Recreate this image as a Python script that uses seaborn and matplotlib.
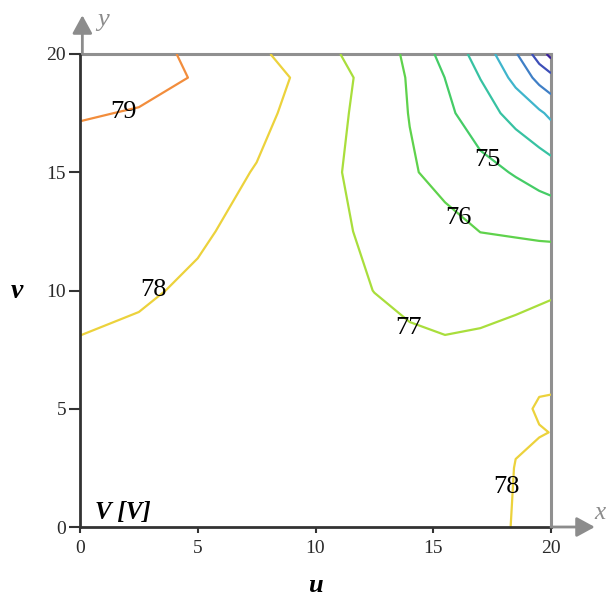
import numpy as np
import matplotlib
matplotlib.use("Agg")
import matplotlib.pyplot as plt
import seaborn as sns

# Sample grid (u across, v up) of the potential V in volts
u_grid = [0, 2.5, 5, 7.5, 10, 12.5, 14, 15.5, 17, 18.5, 19.5, 20]
v_grid = [0, 2.5, 4, 5, 6, 8, 10, 12.5, 15, 17.5, 19, 20]

row_v0    = [77.60, 77.55, 77.50, 77.45, 77.45, 77.50, 77.58, 77.68, 77.82, 78.03, 78.20, 78.30]
row_v2_5  = [77.70, 77.60, 77.52, 77.45, 77.44, 77.46, 77.50, 77.60, 77.80, 78.01, 78.12, 78.18]
row_v4    = [77.75, 77.65, 77.55, 77.47, 77.44, 77.42, 77.42, 77.50, 77.72, 77.97, 77.98, 78.005]
row_v5    = [77.80, 77.70, 77.58, 77.50, 77.43, 77.40, 77.38, 77.45, 77.68, 77.90, 78.04, 78.06]
row_v6    = [77.85, 77.75, 77.62, 77.52, 77.42, 77.35, 77.30, 77.35, 77.50, 77.75, 77.96, 77.96]
row_v8    = [77.99, 77.88, 77.72, 77.58, 77.40, 77.20, 77.08, 77.02, 77.10, 77.29, 77.50, 77.64]
row_v10   = [78.20, 78.10, 77.88, 77.65, 77.33, 76.99, 76.84, 76.69, 76.61, 76.69, 76.78, 76.84]
row_v12_5 = [78.45, 78.35, 78.10, 77.77, 77.30, 76.83, 76.56, 76.28, 75.99, 75.92, 75.85, 75.82]
row_v15   = [78.75, 78.62, 78.40, 77.95, 77.32, 76.61, 76.10, 75.71, 75.32, 74.92, 74.61, 74.46]
row_v17_5 = [79.04, 78.97, 78.72, 78.25, 77.55, 76.58, 75.97, 75.23, 74.45, 73.66, 73.15, 72.80]
row_v19   = [79.25, 79.15, 78.97, 78.42, 77.68, 76.63, 75.91, 74.99, 73.98, 72.74, 71.70, 71.30]
row_v20   = [79.40, 79.25, 78.86, 78.19, 77.38, 76.48, 75.82, 74.65, 73.64, 72.11, 70.50, 69.70]

levels = [70, 71, 72, 73, 74, 75, 76, 77, 78, 79]
tick_values = [0, 5, 10, 15, 20]
labelled_levels = [79, 78, 77, 76, 75, 78]

# where each level label sits (u, v)
label_anchor = [(1.83, 17.55), (3.1, 10.02), (13.93, 8.41), (16.05, 13.07),
                (17.28, 15.52), (18.13, 1.69)]

level_colors = ["#3a1f9c", "#3d4fb8", "#3f7fc6", "#3fb5cc", "#37c2a2",
                "#45cc66", "#5fd24c", "#a9de3c", "#ecd23c", "#f28d3c"]

sns.set_theme(style="white")
plt.rcParams["font.family"] = ["Liberation Serif", "DejaVu Serif"]

W, H = 606, 597
fig = plt.figure(figsize=(W / 100, H / 100), dpi=100)
ax = fig.add_axes([80 / W, 70 / H, 471 / W, 473 / H])

Z = np.array([row_v0, row_v2_5, row_v4, row_v5, row_v6, row_v8, row_v10,
              row_v12_5, row_v15, row_v17_5, row_v19, row_v20])
UU, VV = np.meshgrid(u_grid, v_grid)
ax.contour(UU, VV, Z, levels=levels, colors=level_colors, linewidths=1.6)

for lev, (lu, lv) in zip(labelled_levels, label_anchor):
    ax.text(lu, lv, f"{lev}", fontsize=19, color="black",
            ha="center", va="center", zorder=5)

ax.set_xlim(0, 20)
ax.set_ylim(0, 20)
ax.set_xticks(tick_values)
ax.set_yticks(tick_values)
ax.set_xlabel("")
ax.set_ylabel("")

dark = "#333333"
light = "#909090"
for side in ("left", "bottom"):
    ax.spines[side].set_color(dark)
    ax.spines[side].set_linewidth(2.0)
for side in ("top", "right"):
    ax.spines[side].set_color(light)
    ax.spines[side].set_linewidth(2.2)
ax.spines["top"].set_zorder(0.5)
ax.spines["right"].set_zorder(0.5)

ax.tick_params(axis="y", direction="out", length=8, width=1.5, color=dark,
               labelsize=14, labelcolor="#2a2a2a", pad=2, left=True)
ax.tick_params(axis="x", direction="out", length=4.5, width=1.5, color=dark,
               labelsize=14, labelcolor="#2a2a2a", pad=5, bottom=True)

# axis arrows of the plot frame
arrow_kw = dict(arrowstyle="-|>,head_length=0.55,head_width=0.3",
                color="#8c8c8c", lw=2, mutation_scale=20, shrinkA=0, shrinkB=0)
ax.annotate("", xy=(1.093, 0), xycoords="axes fraction",
            xytext=(1.0, 0), textcoords="axes fraction",
            arrowprops=arrow_kw, annotation_clip=False)
ax.annotate("", xy=(0.005, 1.082), xycoords="axes fraction",
            xytext=(0.005, 1.0), textcoords="axes fraction",
            arrowprops=arrow_kw, annotation_clip=False)
fig.text(594 / W, 1 - 513 / H, "x", fontsize=18, style="italic",
         color="#8c8c8c", ha="left", va="center")
fig.text(97 / W, 1 - 20 / H, "y", fontsize=19, style="italic",
         color="#8c8c8c", ha="left", va="center")

fig.text(315 / W, 1 - 585 / H, "u", fontsize=19, style="italic",
         weight="bold", color="black", ha="center", va="center")
fig.text(17 / W, 1 - 292 / H, "v", fontsize=20, style="italic",
         weight="bold", color="black", ha="center", va="center")
fig.text(95 / W, 1 - 512 / H, "V [V]", fontsize=18, style="italic",
         weight="bold", color="black", ha="left", va="center")

fig.savefig("out.png", dpi=100, facecolor="white")
